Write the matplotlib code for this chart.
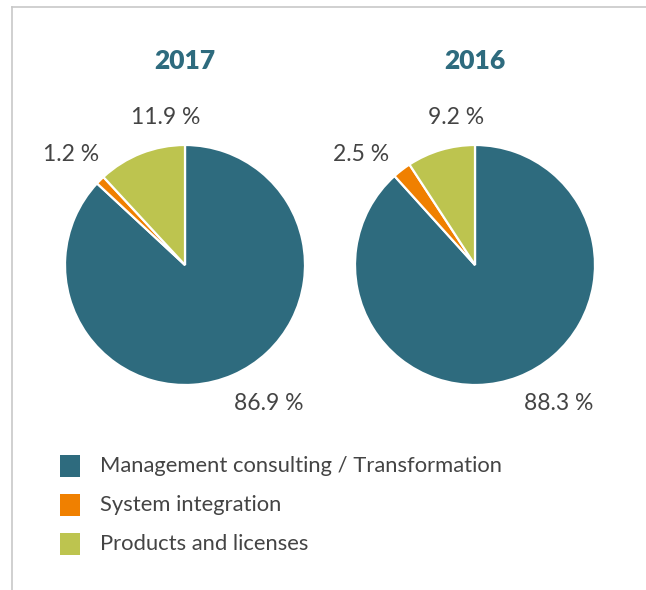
import matplotlib
matplotlib.use('Agg')
import matplotlib.pyplot as plt
from matplotlib.lines import Line2D
from matplotlib.patches import Rectangle

# data
years = ["2017", "2016"]
segments = ["Management consulting / Transformation", "System integration", "Products and licenses"]
shares_2017 = [86.9, 1.2, 11.9]
shares_2016 = [88.3, 2.5, 9.2]
colors = ["#2e6b7e", "#f08000", "#bdc44f"]

# label spots around each pie (radius units), one per segment
label_xy = [(0.70, -1.15), (-0.95, 0.92), (-0.16, 1.23)]

W, H = 646, 590
fig = plt.figure(figsize=(W / 100, H / 100), dpi=100)
fig.patch.set_facecolor("white")

FONT = "Lato"
title_color = "#2e6b7e"
text_color = "#444444"


def px_axes(cx, cy, r):
    # axes box from pixel centre/radius (y from top)
    return fig.add_axes([(cx - r) / W, (H - cy - r) / H, 2 * r / W, 2 * r / H])


def draw_pie(ax, values, title):
    wedges, _ = ax.pie(values, colors=colors, startangle=90, counterclock=False,
                       radius=1.0, wedgeprops=dict(edgecolor="white", linewidth=1.6))
    ax.set_xlim(-1, 1)
    ax.set_ylim(-1, 1)
    ax.set_aspect("equal")
    ax.axis("off")
    for (lx, ly), v in zip(label_xy, values):
        ax.text(lx, ly, f"{v:.1f} %", ha="center", va="center", fontsize=16.5,
                family=FONT, weight="normal", color=text_color, clip_on=False)
    ax.text(0, 1.70, title, ha="center", va="center", fontsize=19, family=FONT,
            weight="heavy", color=title_color, clip_on=False)


ax1 = px_axes(185, 265, 120)
draw_pie(ax1, shares_2017, years[0])
ax2 = px_axes(475, 265, 120)
draw_pie(ax2, shares_2016, years[1])

# legend
for i, (name, c) in enumerate(zip(segments, colors)):
    y = 466 + i * 39
    fig.patches.append(Rectangle((60 / W, (H - y - 11) / H), 20 / W, 22 / H,
                                 transform=fig.transFigure, facecolor=c, edgecolor="none"))
    fig.text(100 / W, (H - y) / H, name, ha="left", va="center", fontsize=15.8,
             family=FONT, weight="normal", color=text_color)

# frame lines (top and left)
frame_c = "#c8c8c8"
fig.add_artist(Line2D([12 / W, 1], [(H - 7) / H, (H - 7) / H], color=frame_c, lw=1.2,
                      transform=fig.transFigure))
fig.add_artist(Line2D([12 / W, 12 / W], [0, (H - 7) / H], color=frame_c, lw=1.2,
                      transform=fig.transFigure))

fig.savefig("out.png", dpi=100)
